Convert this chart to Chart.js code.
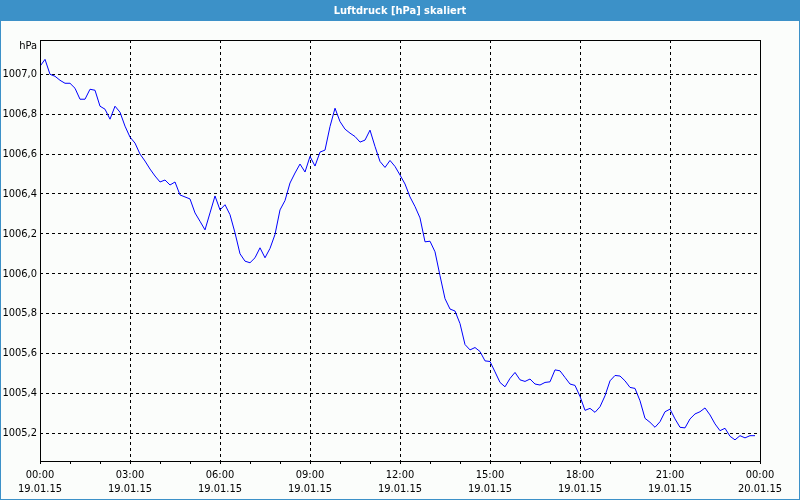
<!DOCTYPE html>
<html>
<head>
<meta charset="utf-8">
<script src="https://cdn.jsdelivr.net/npm/chart.js@4/dist/chart.umd.min.js"></script>
<style>
  html, body { margin: 0; padding: 0; background: #FBFDFB; }
  canvas { display: block; }
</style>
</head>
<body>
<canvas id="c" width="800" height="500"></canvas>
<script>
// ---- data ----
const chartTitle = 'Luftdruck [hPa] skaliert';
const unitLabel = 'hPa';
const SAMPLE_STEP_MIN = 10; // one sample every 10 minutes from 19.01.15 00:00
const pressure = [
  1007.04, 1007.075, 1007.00, 1006.99, 1006.97, 1006.955, 1006.955, 1006.93, 1006.875, 1006.875,
  1006.925, 1006.92, 1006.84, 1006.825, 1006.775, 1006.84, 1006.81, 1006.74, 1006.685, 1006.655,
  1006.60, 1006.565, 1006.525, 1006.49, 1006.46, 1006.47, 1006.445, 1006.46, 1006.395, 1006.385,
  1006.375, 1006.305, 1006.263, 1006.22, 1006.305, 1006.39, 1006.32, 1006.346, 1006.296, 1006.205,
  1006.10, 1006.063, 1006.055, 1006.08, 1006.13, 1006.08, 1006.127, 1006.197, 1006.32, 1006.367,
  1006.455, 1006.505, 1006.55, 1006.51, 1006.588, 1006.54, 1006.61, 1006.62, 1006.738, 1006.83,
  1006.763, 1006.725, 1006.705, 1006.688, 1006.66, 1006.67, 1006.72, 1006.638, 1006.563, 1006.533,
  1006.568, 1006.538, 1006.495, 1006.45, 1006.385, 1006.337, 1006.28, 1006.16, 1006.163, 1006.11,
  1005.99, 1005.875, 1005.823, 1005.813, 1005.75, 1005.645, 1005.618, 1005.63, 1005.61, 1005.563,
  1005.56, 1005.508, 1005.455, 1005.433, 1005.475, 1005.505, 1005.468, 1005.46, 1005.472, 1005.447,
  1005.442, 1005.455, 1005.458, 1005.518, 1005.513, 1005.48, 1005.447, 1005.44, 1005.385, 1005.315,
  1005.325, 1005.305, 1005.333, 1005.388, 1005.463, 1005.49, 1005.487, 1005.463, 1005.43, 1005.425,
  1005.363, 1005.275, 1005.255, 1005.23, 1005.258, 1005.308, 1005.321, 1005.272, 1005.23, 1005.227,
  1005.272, 1005.297, 1005.308, 1005.327, 1005.292, 1005.247, 1005.213, 1005.225, 1005.185, 1005.167,
  1005.188, 1005.177, 1005.188, 1005.188
];
const yTicks = [1005.2, 1005.4, 1005.6, 1005.8, 1006.0, 1006.2, 1006.4, 1006.6, 1006.8, 1007.0];
const yMin = 1005.061;
const yMax = 1007.172;
const timeLabels = ['00:00', '03:00', '06:00', '09:00', '12:00', '15:00', '18:00', '21:00', '00:00'];
const dateLabels = ['19.01.15', '19.01.15', '19.01.15', '19.01.15', '19.01.15', '19.01.15', '19.01.15', '19.01.15', '20.01.15'];
const LABEL_STEP_MIN = 180;
const MINOR_STEP_MIN = 60;
const X_MAX_MIN = 1440;

// ---- build ----
const points = pressure.map((v, i) => ({ x: i * SAMPLE_STEP_MIN, y: v }));
const FONT = '"DejaVu Sans Condensed", "Liberation Sans", sans-serif';
const BLUE = '#3C91C8';

const framePlugin = {
  id: 'frame',
  beforeDraw(chart) {
    const ctx = chart.ctx;
    const W = chart.width, H = chart.height;
    ctx.save();
    ctx.fillStyle = '#FBFDFB';
    ctx.fillRect(0, 0, W, H);
    // title bar
    ctx.fillStyle = BLUE;
    ctx.fillRect(0, 0, W, 21);
    // outer border
    ctx.strokeStyle = BLUE;
    ctx.lineWidth = 1;
    ctx.strokeRect(0.5, 0.5, W - 1, H - 1);
    // title text
    ctx.fillStyle = '#FFFFFF';
    ctx.font = 'bold 11px ' + FONT;
    ctx.textAlign = 'center';
    ctx.textBaseline = 'middle';
    ctx.fillText(chartTitle, W / 2, 11);
    // unit label
    ctx.fillStyle = '#000000';
    ctx.font = '11px ' + FONT;
    ctx.textAlign = 'right';
    ctx.fillText(unitLabel, 37, 46);
    ctx.restore();
  },
  afterDraw(chart) {
    const a = chart.chartArea;
    const ctx = chart.ctx;
    ctx.save();
    ctx.strokeStyle = '#000000';
    ctx.lineWidth = 1;
    ctx.strokeRect(Math.round(a.left) + 0.5, Math.round(a.top) + 0.5,
      Math.round(a.right - a.left), Math.round(a.bottom - a.top));
    ctx.restore();
  }
};

new Chart(document.getElementById('c'), {
  type: 'line',
  data: {
    datasets: [{
      data: points,
      borderColor: '#0000FF',
      borderWidth: 1,
      pointRadius: 0,
      tension: 0,
      fill: false
    }]
  },
  options: {
    responsive: false,
    animation: false,
    devicePixelRatio: 1,
    layout: { padding: { left: 0, right: 40, top: 40, bottom: 0 } },
    plugins: { legend: { display: false }, tooltip: { enabled: false }, title: { display: false } },
    scales: {
      x: {
        type: 'linear',
        min: 0,
        max: X_MAX_MIN,
        afterBuildTicks(scale) {
          const t = [];
          for (let m = 0; m <= X_MAX_MIN; m += MINOR_STEP_MIN) t.push({ value: m });
          scale.ticks = t;
        },
        afterFit(scale) { scale.height = 39; },
        ticks: {
          autoSkip: false,
          maxRotation: 0,
          minRotation: 0,
          padding: 4,
          color: '#000000',
          font: { family: FONT, size: 11, lineHeight: 1.3 },
          callback(v) {
            if (v % LABEL_STEP_MIN !== 0) return '';
            const k = v / LABEL_STEP_MIN;
            return [timeLabels[k], dateLabels[k]];
          }
        },
        grid: {
          drawOnChartArea: true,
          drawTicks: true,
          tickLength: 3,
          tickColor: '#000000',
          tickBorderDash: [],
          lineWidth: 1,
          color(ctx) {
            const v = ctx.tick && ctx.tick.value;
            return (v % LABEL_STEP_MIN === 0 && v > 0 && v < X_MAX_MIN) ? '#000000' : 'rgba(0,0,0,0)';
          }
        },
        border: { display: false, dash: [3, 3] }
      },
      y: {
        type: 'linear',
        min: yMin,
        max: yMax,
        afterBuildTicks(scale) {
          scale.ticks = yTicks.map(v => ({ value: v }));
        },
        afterFit(scale) { scale.width = 40; },
        ticks: {
          padding: 3,
          color: '#000000',
          font: { family: FONT, size: 11 },
          callback(v) { return v.toFixed(1).replace('.', ','); }
        },
        grid: {
          drawTicks: false,
          color: '#000000',
          lineWidth: 1
        },
        border: { display: false, dash: [3, 3] }
      }
    }
  },
  plugins: [framePlugin]
});
</script>
</body>
</html>
